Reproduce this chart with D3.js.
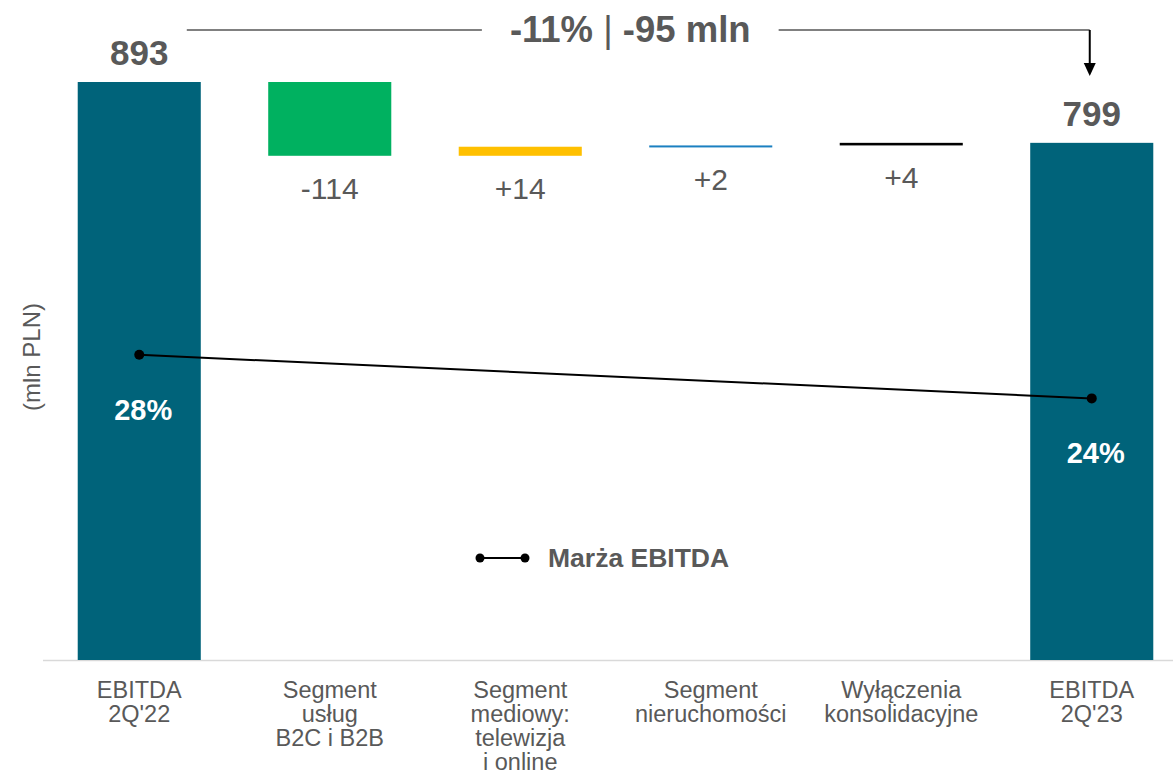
<!DOCTYPE html>
<html>
<head>
<meta charset="utf-8">
<script src="https://cdn.jsdelivr.net/npm/d3@7"></script>
<style>
  body { margin: 0; background: #fff; }
  svg { display: block; font-family: "Liberation Sans", Arial, sans-serif; }
</style>
</head>
<body>
<svg width="1173" height="783"></svg>
<script>
// chart data
var categories = [
  ["EBITDA", "2Q'22"],
  ["Segment", "usług", "B2C i B2B"],
  ["Segment", "mediowy:", "telewizja", "i online"],
  ["Segment", "nieruchomości"],
  ["Wyłączenia", "konsolidacyjne"],
  ["EBITDA", "2Q'23"]
];
var values = [893, -114, 14, 2, 4, 799];
var kinds = ["total", "delta", "delta", "delta", "delta", "total"];
var valueLabels = ["893", "-114", "+14", "+2", "+4", "799"];
var barColors = ["#00637A", "#00B160", "#FFC000", "#1B80C1", "#000000", "#00637A"];
var marginIdx = [0, 5];
var marginValues = [28, 24];
var marginLabels = ["28%", "24%"];
var changeLabel = ["-11%", "|", "-95 mln"];

var gray = "#595959";
var svg = d3.select("svg");
var baseY = 660;

// waterfall steps
var run = 0;
var bars = values.map(function(v, i) {
  var lo, hi;
  if (kinds[i] == "total") {
    lo = 0; hi = v; run = v;
  } else {
    lo = Math.min(run, run + v); hi = Math.max(run, run + v); run += v;
  }
  return {i: i, v: v, lo: lo, hi: hi};
});

var x = d3.scaleBand()
  .domain(d3.range(categories.length))
  .range([44, 1187])
  .paddingInner(0.354)
  .paddingOuter(0.177);

var y = d3.scaleLinear()
  .domain([0, d3.max(values)])
  .range([baseY, 82]);

var yM = d3.scaleLinear()
  .domain([0, 30])
  .range([baseY, baseY - 327]);

// baseline
svg.append("line")
  .attr("x1", 43).attr("x2", 1173)
  .attr("y1", baseY + 0.5).attr("y2", baseY + 0.5)
  .attr("stroke", "#D9D9D9").attr("stroke-width", 1.5);

// bars
svg.selectAll("rect.bar")
  .data(bars)
  .enter().append("rect")
  .attr("class", "bar")
  .attr("x", function(d) { return x(d.i); })
  .attr("width", x.bandwidth())
  .attr("y", function(d) { return y(d.hi); })
  .attr("height", function(d) { return Math.max(2, y(d.lo) - y(d.hi)); })
  .attr("fill", function(d) { return barColors[d.i]; });

// value labels
svg.selectAll("text.val")
  .data(bars)
  .enter().append("text")
  .attr("class", "val")
  .attr("x", function(d) { return x(d.i) + x.bandwidth() / 2; })
  .attr("y", function(d) {
    return kinds[d.i] == "total" ? y(d.hi) - 17 : y(d.lo) + 43;
  })
  .attr("text-anchor", "middle")
  .attr("fill", gray)
  .attr("font-size", function(d) { return kinds[d.i] == "total" ? 35 : 30; })
  .attr("font-weight", function(d) { return kinds[d.i] == "total" ? "bold" : "normal"; })
  .text(function(d) { return valueLabels[d.i]; });

// category labels
var cat = svg.selectAll("text.cat")
  .data(categories)
  .enter().append("text")
  .attr("class", "cat")
  .attr("text-anchor", "middle")
  .attr("fill", gray)
  .attr("font-size", 23.5);
cat.selectAll("tspan")
  .data(function(d, i) { return d.map(function(s) { return {s: s, i: i}; }); })
  .enter().append("tspan")
  .attr("x", function(d) { return x(d.i) + x.bandwidth() / 2; })
  .attr("y", function(d, j) { return 698 + j * 24; })
  .text(function(d) { return d.s; });

// y axis title
svg.append("text")
  .attr("transform", "translate(40,357) rotate(-90)")
  .attr("text-anchor", "middle")
  .attr("fill", gray)
  .attr("font-size", 24)
  .text("(mln PLN)");

// margin line
var mPts = marginIdx.map(function(c, k) {
  return [x(c) + x.bandwidth() / 2, yM(marginValues[k]), marginLabels[k]];
});
svg.append("path")
  .attr("d", d3.line()(mPts.map(function(p) { return [p[0], p[1]]; })))
  .attr("stroke", "#000").attr("stroke-width", 2).attr("fill", "none");
svg.selectAll("circle.m")
  .data(mPts)
  .enter().append("circle")
  .attr("class", "m")
  .attr("cx", function(p) { return p[0]; })
  .attr("cy", function(p) { return p[1]; })
  .attr("r", 5)
  .attr("fill", "#000");
svg.selectAll("text.m")
  .data(mPts)
  .enter().append("text")
  .attr("class", "m")
  .attr("x", function(p) { return p[0] + 4; })
  .attr("y", function(p) { return p[1] + 65; })
  .attr("text-anchor", "middle")
  .attr("fill", "#fff")
  .attr("font-size", 29)
  .attr("font-weight", "bold")
  .text(function(p) { return p[2]; });

// legend
svg.append("line")
  .attr("x1", 480).attr("x2", 525).attr("y1", 558).attr("y2", 558)
  .attr("stroke", "#000").attr("stroke-width", 2);
svg.selectAll("circle.lg")
  .data([480, 525])
  .enter().append("circle")
  .attr("class", "lg")
  .attr("cx", function(d) { return d; }).attr("cy", 558)
  .attr("r", 4.5).attr("fill", "#000");
svg.append("text")
  .attr("x", 548).attr("y", 567)
  .attr("fill", gray)
  .attr("font-size", 26.5)
  .attr("font-weight", "bold")
  .text("Marża EBITDA");

// change annotation on top
var aStart = x(0) + x.bandwidth() - 14;
var aEnd = x(5) + x.bandwidth() / 2 - 2;
var aY = 30;
var title = svg.append("text")
  .attr("x", (aStart + aEnd) / 2 - 8)
  .attr("y", 42)
  .attr("text-anchor", "middle")
  .attr("fill", gray)
  .attr("font-size", 36.5)
  .attr("font-weight", "bold");
title.append("tspan").text(changeLabel[0] + " ");
title.append("tspan").attr("font-weight", "normal").text(changeLabel[1]);
title.append("tspan").text(" " + changeLabel[2]);
var bb = title.node().getBBox();
svg.append("line")
  .attr("x1", aStart).attr("x2", bb.x - 28)
  .attr("y1", aY).attr("y2", aY)
  .attr("stroke", "#808080").attr("stroke-width", 2);
svg.append("line")
  .attr("x1", bb.x + bb.width + 28).attr("x2", aEnd)
  .attr("y1", aY).attr("y2", aY)
  .attr("stroke", "#808080").attr("stroke-width", 2);
svg.append("line")
  .attr("x1", aEnd).attr("x2", aEnd)
  .attr("y1", aY).attr("y2", 66)
  .attr("stroke", "#000").attr("stroke-width", 2);
svg.append("path")
  .attr("d", "M" + (aEnd - 6) + ",63L" + (aEnd + 6) + ",63L" + aEnd + ",76Z")
  .attr("fill", "#000");
</script>
</body>
</html>
